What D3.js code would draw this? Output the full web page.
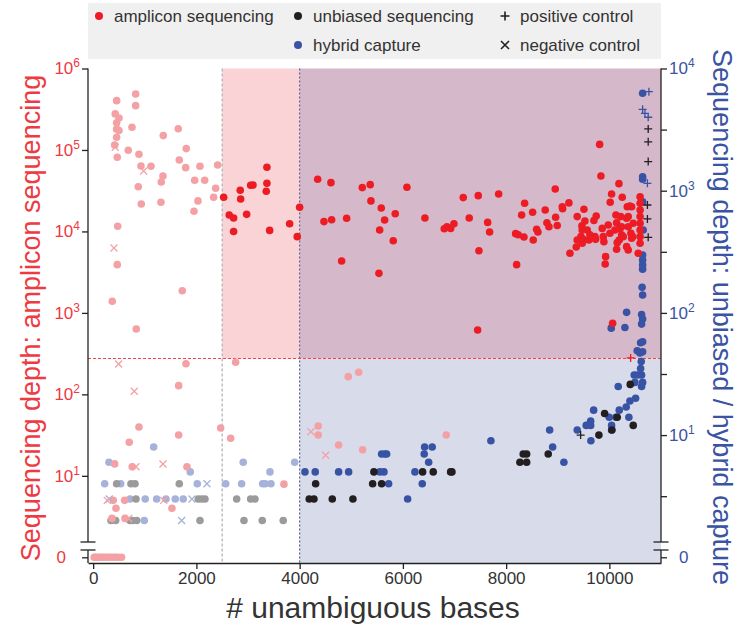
<!DOCTYPE html>
<html>
<head>
<meta charset="utf-8">
<script src="https://cdnjs.cloudflare.com/ajax/libs/d3/7.8.5/d3.min.js"></script>
<style>
body{margin:0;background:#fff;}
svg{font-family:"Liberation Sans",Arial,sans-serif;}
</style>
</head>
<body>
<div id="chart"></div>
<script>
// amplicon sequencing samples (left axis)
const ampBases=[455,428,500,455,455,500,455,416,467,823,823,752,680,887,926,1120,874,932,1358,1352,1319,1313,1648,1803,1668,1792,2069,1966,2160,2412,2373,2334,2030,1953,475,467,370,1726,835,
1798,2760,1656,887,699,1656,2470,2663,416,757,1817,3696,389,610,442,1526,364,616,4941,5143,4360,4360,4755,5220,6840,
20,60,100,140,180,230,280,330,380,430,480,550,
2528,2636,2721,2721,2849,2857,2973,3051,3095,3366,3366,3353,3419,3806,3953,4000,
4349,4606,4471,4620,4910,4813,5213,5367,5381,5581,5646,5550,5813,5852,5536,6078,6427,6801,6853,6925,6989,7169,7285,7460,7473,7448,7642,7680,7855,
8203,8184,8234,8345,8300,8358,8513,8525,8591,8616,8757,8790,8829,8951,8959,8990,9087,9094,9216,9236,9358,9377,9377,9507,9526,9468,9474,9449,9571,9604,9733,9700,9745,
9811,9836,9861,9894,9927,9919,9978,10016,10043,10010,10127,10140,10152,10140,10185,10249,10218,10204,10268,10346,10365,10398,10431,10365,10417,10334,10365,10462,10450,10558,
10595,10595,10595,10595,10595,10595,10595,10595,9474,9623,9493,9720,9881,10107,10237,10237,10191,10334,10431,10063];
const ampDepth=[403000,277000,247000,216000,180000,173000,143000,115000,81300,487000,350000,190000,99000,88500,63600,63100,35400,21700,150000,48000,40500,22800,182000,104000,75400,60700,63100,42500,42500,65500,33900,26300,23700,17700,11600,3910,1390,1870,635,
238,248,128,39.8,25.8,31.7,38.7,28.9,14,12.9,12.9,7.9,5,5,4,4,3,3,165,187,40.9,31.7,23.9,20.9,31.7,
0,0,0,0,0,0,0,0,0,0,0,0,
26300,15900,14600,10000,32000,25000,16200,36900,37100,61300,39000,31100,10300,12400,8630,19800,
43700,39700,13200,13900,14500,4340,34500,37500,23700,19400,13800,10400,7700,16500,3060,34800,14600,10800,11400,10900,12400,26000,14600,27500,5800,617,12900,9840,28800,
3910,9390,9100,8550,15900,22200,17200,7860,10600,9840,18300,12800,11400,33200,14900,11800,20100,19000,22400,5400,6440,7860,15200,18700,13400,11700,7160,8630,10400,7860,8000,13600,15500,
117000,48000,10900,7480,4900,3990,12000,22800,28800,9490,15900,12800,7280,6040,38600,26300,15200,10900,8630,20100,15200,20500,20100,11400,9490,6500,5920,12600,8630,5400,
26700,22200,18300,15200,12600,10400,8630,7160,10400,9060,8000,8630,8630,10400,11400,9100,7860,14500,8240,746];
const ampNegBases=[428,978,403,494,796,829,1352,273,1366,688,4219,4504];
const ampNegDepth=[108000,55200,6270,236,109,12.9,14,5,5,3,34.8,17.9];
const ampPosBases=[10412];
const ampPosDepth=[280];

// unbiased sequencing samples (right axis)
const unbBases=[455,732,810,1668,829,2036,2102,2166,2780,3051,3134,345,436,713,765,843,2069,2921,3276,3682,
4186,4277,4310,4632,5032,5414,5588,5439,6382,6588,6925,6950,8267,8397,8331,8397,8815,9797,9908,10049,10152,10462,10404];
const unbDepth=[4,4,4,4,3,3,3,3,3,3,3,2,2,2,2,2,2,2,2,2,
3,3,4,3,3,4,4,5,5,5,5,5,6,6,7,7,7,10,15,11,14,12,26];
const unbPosBases=[10752,10752,10752,10737,10737,10752,9443];
const unbPosDepth=[3200,2510,1730,764,587,415,10];

// hybrid capture samples (right axis)
const hybBases=[306,1172,1881,2907,3425,3903,223,533,2016,2567,2876,3283,3334,3444,713,1009,1230,1410,1590,1745,990,
4103,4302,4755,4949,5588,5652,5685,5555,5633,5724,6092,6421,6568,6413,6499,6233,6375,7705,8843,8901,9119,9377,9551,9637,9637,9642,9695,
9997,10127,10043,10043,10191,10326,10378,10398,10508,10171,10481,10547,10624,10495,10644,10624,10605,10617,10592,10539,10644,10605,10644,
10644,10634,10036,10301,10334,10624,10644,10624,10644,10644,10644,10644,10655,10644,10644,10644,10644];
const hybDepth=[6,8,5,6,5,6,4,4,4,4,4,4,4,4,3,3,3,3,3,3,2,
5,5,5,5,7,7,7,5,5,4,3,8,8,7,6,5,4,9,11,8,6,11,12,13,12,9,16,
14,14,12,11,16,17,14,19,20,25,31,31,31,27,27,25,35,40,47,49,48,57,58,
140,162,75,76,101,97,89,81,228,247,271,298,477,813,1300,1240,6270];
const hybNegBases=[2204,312,1914,1714];
const hybNegDepth=[4,3,3,2];
const hybPosBases=[10766,10644,10689,10752,10737];
const hybPosDepth=[6460,4630,4300,3990,1150];

// thresholds
const ampMinBases=2500, ampMinDepth=275, unbMinBases=4000;
const xTicks=[0,2000,4000,6000,8000,10000];
const leftTicks=[1,10,100,1000,10000,100000,1000000];
const rightTicks=[1,10,100,1000,10000];
const legendRows=[
	{label:"amplicon sequencing",col:0,row:0,kind:"dot",color:"#ed1c24"},
	{label:"unbiased sequencing",col:1,row:0,kind:"dot",color:"#231f20"},
	{label:"hybrid capture",col:1,row:1,kind:"dot",color:"#3953a4"},
	{label:"positive control",col:2,row:0,kind:"plus",color:"#231f20"},
	{label:"negative control",col:2,row:1,kind:"cross",color:"#231f20"}
];

const w=737, h=632;
const pLeft=88, pRight=661, pTop=68.5, pBottom=563;
const red="#ed1c24", pink="#f4a1a5", blue="#3953a4", lightBlue="#a6b2d9", black="#231f20", gray="#9b9b9b";

const svg=d3.select("#chart").append("svg")
	.attr("width",w).attr("height",h);

const xScale=d3.scaleLinear().domain([-100,11000]).range([pLeft,pRight]);
const yLeft=d3.scaleLog().domain([0.851,1e6]).range([pBottom,pTop]);
const yRight=d3.scaleLog().domain([0.898,1e4]).range([pBottom,pTop]);
// zero depth sits on the "0" row under the axis break
const yL=(d)=> yLeft(Math.max(d,1));
const yR=(d)=> yRight(Math.max(d,1));

// Legend box
svg.append("rect").attr("x",pLeft).attr("y",3).attr("width",pRight-pLeft).attr("height",56).style("fill","#f0f0f0");
const legX=[99,298,505], legY=[16,45];
legendRows.forEach(r=>
{
	const cx=legX[r.col], cy=legY[r.row];
	if(r.kind==="dot")
		svg.append("circle").attr("cx",cx).attr("cy",cy).attr("r",4).style("fill",r.color);
	else if(r.kind==="plus")
		svg.append("path").attr("d",`M${cx-4.5},${cy}H${cx+4.5}M${cx},${cy-4.5}V${cy+4.5}`).style("stroke",r.color).style("stroke-width",1.6);
	else
		svg.append("path").attr("d",`M${cx-4},${cy-4}L${cx+4},${cy+4}M${cx-4},${cy+4}L${cx+4},${cy-4}`).style("stroke",r.color).style("stroke-width",1.6);
	svg.append("text").attr("x",cx+15).attr("y",cy).attr("dy","0.35em")
		.style("font-size","17px").style("fill","#333").text(r.label);
});

// Shaded pass regions
const yThr=yLeft(ampMinDepth);
svg.append("rect").attr("x",xScale(ampMinBases)).attr("y",pTop)
	.attr("width",xScale(unbMinBases)-xScale(ampMinBases)).attr("height",yThr-pTop).style("fill","#f9d3d5");
svg.append("rect").attr("x",xScale(unbMinBases)).attr("y",pTop)
	.attr("width",pRight-xScale(unbMinBases)).attr("height",yThr-pTop).style("fill","#d5b9ca");
svg.append("rect").attr("x",xScale(unbMinBases)).attr("y",yThr)
	.attr("width",pRight-xScale(unbMinBases)).attr("height",pBottom-yThr).style("fill","#d8dcea");

// Threshold lines
svg.append("line").attr("x1",xScale(ampMinBases)).attr("x2",xScale(ampMinBases)).attr("y1",pTop).attr("y2",pBottom)
	.style("stroke","#b5b5b5").style("stroke-width",1.3).style("stroke-dasharray","3,2");
svg.append("line").attr("x1",xScale(unbMinBases)).attr("x2",xScale(unbMinBases)).attr("y1",pTop).attr("y2",pBottom)
	.style("stroke","#55558f").style("stroke-width",1.1).style("stroke-dasharray","2,2");
svg.append("line").attr("x1",pLeft).attr("x2",pRight).attr("y1",yThr).attr("y2",yThr)
	.style("stroke","#f0434a").style("stroke-width",1.1).style("stroke-dasharray","3,2");

// Points
const dots=(bases,depth,ys,colorOf)=>
{
	svg.append("g").selectAll("circle")
		.data(bases.map((b,i)=>[b,depth[i]]))
		.enter().append("circle")
		.attr("cx",d=>xScale(d[0]))
		.attr("cy",d=>ys(d[1]))
		.attr("r",3.8)
		.style("fill",d=>colorOf(d));
};
const marks=(bases,depth,ys,colorOf,kind)=>
{
	const pth= kind==="plus" ? "M-4,0H4M0,-4V4" : "M-3.5,-3.5L3.5,3.5M-3.5,3.5L3.5,-3.5";
	svg.append("g").selectAll("path")
		.data(bases.map((b,i)=>[b,depth[i]]))
		.enter().append("path")
		.attr("d",pth)
		.attr("transform",d=>"translate("+xScale(d[0])+","+ys(d[1])+")")
		.style("fill","none")
		.style("stroke-width",1.3)
		.style("stroke",d=>colorOf(d));
};
const ampColor=d=> (d[0]>=ampMinBases && d[1]>=ampMinDepth) ? red : pink;
const hybColor=d=> d[0]>=unbMinBases ? blue : lightBlue;
const unbColor=d=> d[0]>=unbMinBases ? black : gray;

dots(hybBases,hybDepth,yR,hybColor);
dots(unbBases,unbDepth,yR,unbColor);
dots(ampBases,ampDepth,yL,ampColor);
marks(hybNegBases,hybNegDepth,yR,hybColor,"cross");
marks(ampNegBases,ampNegDepth,yL,ampColor,"cross");
marks(unbPosBases,unbPosDepth,yR,unbColor,"plus");
marks(hybPosBases,hybPosDepth,yR,hybColor,"plus");
marks(ampPosBases,ampPosDepth,yL,ampColor,"plus");

// Axes
const brk1=542, brk2=550;
const axisStyle=g=>{ g.selectAll("line").style("stroke","#222").style("stroke-width",1.3); };
// left
const yAxisL=svg.append("g").attr("transform","translate("+pLeft+",0)")
	.call(d3.axisLeft(yLeft).tickValues(leftTicks).tickSize(6).tickFormat(""));
yAxisL.select(".domain").remove();
yAxisL.call(axisStyle);
// right
const minorR=[1,10,100,1000].map(v=>v*Math.sqrt(10));
const yAxisR=svg.append("g").attr("transform","translate("+pRight+",0)")
	.call(d3.axisRight(yRight).tickValues(rightTicks.concat(minorR)).tickSize(6).tickFormat(""));
yAxisR.select(".domain").remove();
yAxisR.call(axisStyle);
// bottom
const xAxis=svg.append("g").attr("transform","translate(0,"+pBottom+")")
	.call(d3.axisBottom(xScale).tickValues(xTicks).tickSize(6).tickSizeOuter(0).tickFormat(d3.format("d")));
xAxis.select(".domain").style("stroke","#222").style("stroke-width",1.3);
xAxis.call(axisStyle);
xAxis.selectAll("text").style("font-size","17px").style("fill","#333").style("font-family","Liberation Sans, Arial, sans-serif").attr("y",9);

// axis lines with break marks
[pLeft,pRight].forEach(x=>
{
	svg.append("line").attr("x1",x).attr("x2",x).attr("y1",pTop).attr("y2",brk1).style("stroke","#222").style("stroke-width",1.3);
	svg.append("line").attr("x1",x).attr("x2",x).attr("y1",brk2).attr("y2",pBottom).style("stroke","#222").style("stroke-width",1.3);
	[brk1,brk2].forEach(y=>
		svg.append("line").attr("x1",x-7.5).attr("x2",x+7.5).attr("y1",y).attr("y2",y).style("stroke","#222").style("stroke-width",1.3));
});

// tick labels with superscripts
const powLabel=(sel,v,color,anchor,x,y)=>
{
	const t=sel.append("text").attr("x",x).attr("y",y).attr("dy","0.35em")
		.attr("text-anchor",anchor).style("fill",color).style("font-size","17px");
	t.append("tspan").text("10");
	t.append("tspan").attr("dy",-7).style("font-size","12px").text(Math.round(Math.log10(v)));
};
const leftCol="#ee3a43", rightCol="#3a53a3";
leftTicks.forEach(v=>
{
	if(v===1)
		svg.append("text").attr("x",66).attr("y",yLeft(1)).attr("dy","0.35em").attr("text-anchor","end")
			.style("fill",leftCol).style("font-size","17px").text("0");
	else powLabel(svg,v,leftCol,"end",pLeft-8,yLeft(v));
});
rightTicks.forEach(v=>
{
	if(v===1)
		svg.append("text").attr("x",679).attr("y",yRight(1)).attr("dy","0.35em")
			.style("fill",rightCol).style("font-size","17px").text("0");
	else powLabel(svg,v,rightCol,"start",pRight+8,yRight(v));
});

// Axis titles
svg.append("text").attr("transform","translate(31,318) rotate(-90)")
	.attr("text-anchor","middle").attr("dy","0.35em")
	.style("font-size","27px").style("fill",leftCol)
	.text("Sequencing depth: amplicon sequencing");
svg.append("text").attr("transform","translate(722,317) rotate(90)")
	.attr("text-anchor","middle").attr("dy","0.35em")
	.style("font-size","27px").style("fill",rightCol)
	.text("Sequencing depth: unbiased / hybrid capture");
svg.append("text").attr("x",373).attr("y",607).attr("dy","0.35em")
	.attr("text-anchor","middle")
	.style("font-size","30px").style("fill","#333")
	.text("# unambiguous bases");
</script>
</body>
</html>
